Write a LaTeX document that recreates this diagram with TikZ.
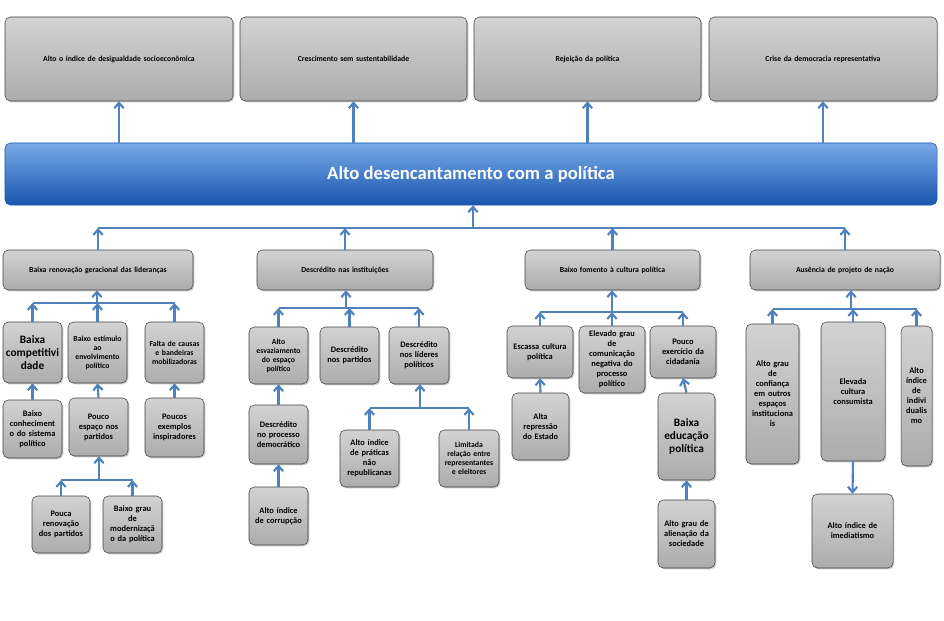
\documentclass[tikz,border=0pt]{standalone}
\usepackage{fontspec}
\setmainfont{Carlito}
\usetikzlibrary{shadows, calc, arrows.meta, positioning}
\definecolor{arrowblue}{RGB}{79,129,189}
\definecolor{barlight}{RGB}{120,170,230}
\definecolor{bardark}{RGB}{25,85,175}
\tikzset{
  box/.style={rounded corners=4pt, draw=gray!50!black, top color=gray!35, bottom color=gray!65,
    drop shadow={shadow xshift=1pt, shadow yshift=-1pt, opacity=0.4},
    align=center, inner sep=1pt, font=\bfseries\fontsize{5.8}{6.8}\selectfont},
  mid/.style={font=\bfseries\fontsize{6.3}{7.5}\selectfont},
  big/.style={font=\bfseries\fontsize{8.5}{9.5}\selectfont},
  arr/.style={-{Straight Barb[length=4pt,width=7pt]}, line width=1.6pt, arrowblue},
  link/.style={line width=1.6pt, arrowblue},
}
% box from pixel corners: style, name, left, right, top, bottom, text
\newcommand\bx[7][]{%
  \node[box, #1, minimum width={(#4-#3)*0.75pt}, minimum height={(#6-#5)*0.75pt},
    text width={(#4-#3)*0.75pt-3pt}] (#2) at ({(#3+#4)/2},{(#5+#6)/2}) {#7};}
\begin{document}
\begin{tikzpicture}[x=0.75pt, y=-0.75pt]
\useasboundingbox (0,0) rectangle (944,620);

% top row
\bx{t1}{5}{233}{17}{101}{Alto o índice de desigualdade socioeconômica}
\bx{t2}{240}{467}{17}{101}{Crescimento sem sustentabilidade}
\bx{t3}{474}{701}{17}{101}{Rejeição da política}
\bx{t4}{709}{937}{17}{101}{Crise da democracia representativa}

% main bar
\node[rounded corners=4pt, draw=bardark, top color=barlight, bottom color=bardark,
  minimum width={932*0.75pt}, minimum height={62*0.75pt}, text=white,
  font=\bfseries\fontsize{14}{16}\selectfont] (main) at (471,174) {Alto desencantamento com a política};
\foreach \t in {t1,t2,t3,t4}
  \draw[arr] (main.north -| \t.south) -- (\t.south);

% level 2
\bx{g1}{3}{193}{250}{290}{Baixa renovação geracional das lideranças}
\bx{g2}{257}{433}{250}{290}{Descrédito nas instituições}
\bx{g3}{525}{700}{250}{290}{Baixo fomento à cultura política}
\bx{g4}{750}{940}{250}{290}{Ausência de projeto de nação}
\coordinate (bus0) at (473,228);
\draw[link] (g1.north |- bus0) -- (g4.north |- bus0);
\draw[arr] (bus0) -- (bus0 |- main.south);
\foreach \g in {g1,g2,g3,g4}
  \draw[arr] (\g.north) -- (\g.north |- bus0);

% group 1
\bx[big]{a1}{3}{62}{322}{383}{Baixa\\competitivi\\dade}
\bx{a2}{68}{127}{322}{383}{Baixo estímulo\\ao\\envolvimento\\político}
\bx{a3}{145}{204}{322}{383}{Falta de causas\\e bandeiras\\mobilizadoras}
\coordinate (bus1) at (97,303);
\draw[link] (a1.north |- bus1) -- (a3.north |- bus1);
\draw[arr] (bus1) -- (bus1 |- g1.south);
\foreach \c in {a1,a2,a3}
  \draw[arr] (\c.north) -- (\c.north |- bus1);
\bx[mid]{a4}{3}{62}{400}{458}{Baixo\\conheciment\\o do sistema\\político}
\bx[mid]{a5}{69}{128}{398}{456}{Pouco\\espaço nos\\partidos}
\bx[mid]{a6}{145}{204}{398}{457}{Poucos\\exemplos\\inspiradores}
\draw[arr] (a4.north) -- (a1.south);
\draw[arr] (a5.north) -- (a2.south);
\draw[arr] (a6.north) -- (a3.south);
\bx[mid]{a7}{32}{90}{496}{553}{Pouca\\renovação\\dos partidos}
\bx[mid]{a8}{103}{162}{496}{553}{Baixo grau\\de\\modernizaçã\\o da política}
\coordinate (bus2) at (99,480);
\draw[link] (a7.north |- bus2) -- (a8.north |- bus2);
\draw[arr] (bus2) -- (bus2 |- a5.south);
\draw[arr] (a7.north) -- (a7.north |- bus2);
\draw[arr] (a8.north) -- (a8.north |- bus2);

% group 2
\bx{b1}{249}{308}{327}{384}{Alto\\esvaziamento\\do espaço\\político}
\bx[mid]{b2}{320}{379}{327}{384}{Descrédito\\nos partidos}
\bx[mid]{b3}{389}{449}{327}{384}{Descrédito\\nos líderes\\políticos}
\coordinate (bus3) at (346,308);
\draw[link] (b1.north |- bus3) -- (b3.north |- bus3);
\draw[arr] (bus3) -- (bus3 |- g2.south);
\foreach \c in {b1,b2,b3}
  \draw[arr] (\c.north) -- (\c.north |- bus3);
\bx[mid]{b4}{249}{308}{405}{464}{Descrédito\\no processo\\democrático}
\bx[mid]{b5}{249}{308}{487}{545}{Alto índice\\de corrupção}
\draw[arr] (b4.north) -- (b1.south);
\draw[arr] (b5.north) -- (b4.south);
\bx[mid]{b6}{340}{399}{430}{487}{Alto índice\\de práticas\\não\\republicanas}
\bx{b7}{439}{499}{430}{487}{Limitada\\relação entre\\representantes\\e eleitores}
\coordinate (bus4) at (420,408);
\draw[link] (b6.north |- bus4) -- (b7.north |- bus4);
\draw[arr] (bus4) -- (bus4 |- b3.south);
\draw[arr] (b6.north) -- (b6.north |- bus4);
\draw[arr] (b7.north) -- (b7.north |- bus4);

% group 3
\bx[mid]{c1}{507}{573}{326}{378}{Escassa cultura\\política}
\bx[mid]{c2}{579}{645}{326}{393}{Elevado grau\\de\\comunicação\\negativa do\\processo\\político}
\bx[mid]{c3}{650}{716}{326}{378}{Pouco\\exercício da\\cidadania}
\coordinate (bus5) at (612,312);
\draw[link] (c1.north |- bus5) -- (c3.north |- bus5);
\draw[arr] (bus5) -- (bus5 |- g3.south);
\foreach \c in {c1,c2,c3}
  \draw[arr] (\c.north) -- (\c.north |- bus5);
\bx[mid]{c4}{512}{569}{393}{460}{Alta\\repressão\\do Estado}
\bx[big]{c5}{658}{715}{393}{480}{Baixa\\educação\\política}
\bx[mid]{c6}{658}{715}{500}{568}{Alto grau de\\alienação da\\sociedade}
\draw[arr] (c4.north) -- (c1.south);
\draw[arr] (c5.north) -- (c3.south);
\draw[arr] (c6.north) -- (c5.south);

% group 4
\bx[mid]{d1}{746}{799}{324}{464}{Alto grau\\de\\confiança\\em outros\\espaços\\instituciona\\is}
\bx[mid]{d2}{821}{885}{322}{461}{Elevada\\cultura\\consumista\\[18pt]}
\bx[mid]{d3}{901}{932}{326}{466}{Alto\\índice\\de\\indivi\\dualis\\mo\\[10pt]}
\coordinate (bus6) at (851,309);
\draw[link] (d1.north |- bus6) -- (d3.north |- bus6);
\draw[arr] (bus6) -- (bus6 |- g4.south);
\foreach \c in {d1,d2,d3}
  \draw[arr] (\c.north) -- (\c.north |- bus6);
\bx[mid]{d4}{812}{893}{494}{568}{Alto índice de\\imediatismo}
\draw[arr] (d2.south) -- (d4.north);
\end{tikzpicture}
\end{document}
